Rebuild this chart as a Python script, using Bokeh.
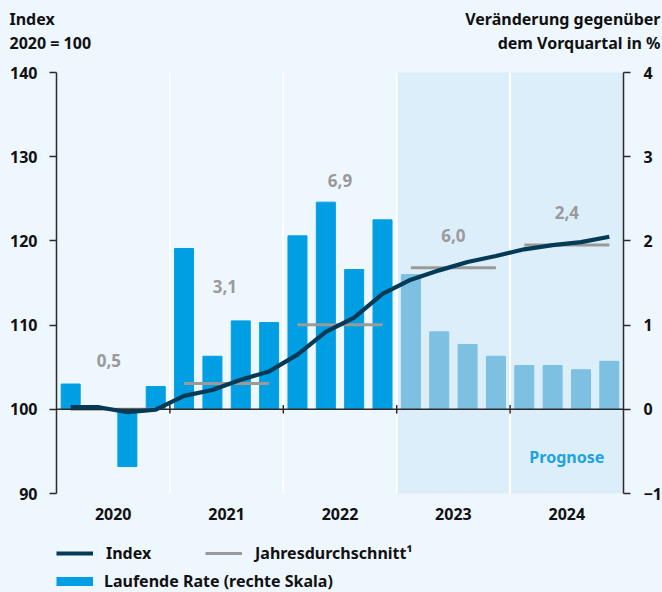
from bokeh.plotting import figure
from bokeh.models import (Range1d, LinearAxis, FixedTicker, BoxAnnotation, Label,
                          Legend, LegendItem, ColumnDataSource, GlobalInlineStyleSheet)
from bokeh.embed import file_html
from bokeh.resources import INLINE

# ---------------- data ----------------
years = ["2020", "2021", "2022", "2023", "2024"]
quarters = ["Q1", "Q2", "Q3", "Q4"]
rate = [0.30, 0.00, -0.68, 0.27,
        1.91, 0.63, 1.05, 1.03,
        2.06, 2.46, 1.66, 2.25,
        1.60, 0.92, 0.77, 0.63,
        0.52, 0.52, 0.47, 0.57]
index_vals = [100.25, 100.25, 99.65, 99.95,
              101.6, 102.3, 103.5, 104.5,
              106.5, 109.2, 110.9, 113.7,
              115.4, 116.5, 117.5, 118.2,
              119.0, 119.5, 119.85, 120.5]
annual_avg = [100.0, 103.05, 110.05, 116.8, 119.5]
annual_rate_labels = ["0,5", "3,1", "6,9", "6,0", "2,4"]
forecast_start_year = "2023"
left_ticks = [90, 100, 110, 120, 130, 140]
right_ticks = [-1, 0, 1, 2, 3, 4]
right_tick_labels = ["\u22121", "0", "1", "2", "3", "4"]
header_left = ["Index", "2020 = 100"]
header_right = ["Veränderung gegenüber", "dem Vorquartal in %"]

# ---------------- styling ----------------
FONT = "Noto Sans"
BG = "#EEF6FE"
SHADE = "#DCEEFA"
BAR = "#009FE3"
BAR_FC = "#7DC0E2"
LINE = "#053A56"
GREY = "#9A9A9A"
AXIS = "#2B2B2B"
TXT = "#111111"

W, H = 662, 592
PX_L, PX_R, PX_T, PX_B = 56, 623, 72, 493   # plotting box inside the canvas

nq = len(rate)
xq = [i + 0.5 for i in range(nq)]
fc_start = years.index(forecast_start_year) * 4
bar_colors = [BAR if i < fc_start else BAR_FC for i in range(nq)]

# ranges extended so that [0, nq] x [90, 140] sits at the plotting box
ylo, yhi = left_ticks[0], left_ticks[-1]
xs = (PX_R - PX_L) / nq
ys = (PX_B - PX_T) / (yhi - ylo)
xr = Range1d(-PX_L / xs, nq + (W - PX_R) / xs)
yr = Range1d(ylo - (H - PX_B) / ys, yhi + PX_T / ys)
rlo, rhi = right_ticks[0], right_ticks[-1]
rs = (PX_B - PX_T) / (rhi - rlo)
rr = Range1d(rlo - (H - PX_B) / rs, rhi + PX_T / rs)

p = figure(width=W, height=H, x_range=xr, y_range=yr,
           output_backend="svg", toolbar_location=None, min_border=0)
p.stylesheets = [GlobalInlineStyleSheet(css="html, body {margin:0 !important; padding:0; background:%s; overflow:hidden;}" % BG)]
p.background_fill_color = BG
p.border_fill_color = BG
p.outline_line_color = None
p.extra_y_ranges = {"rate": rr}
p.xgrid.visible = False
p.ygrid.visible = False

# forecast shading
p.add_layout(BoxAnnotation(left=fc_start, right=nq, bottom=ylo, top=yhi, fill_color=SHADE,
                           fill_alpha=1, line_alpha=0, level="image"))

# white year separators
sep = [4, 8, 12, 16]
p.segment(x0=sep, x1=sep, y0=[ylo] * 4, y1=[yhi] * 4, line_color="white", line_width=2)

def style_axis(a):
    a.axis_line_color = AXIS
    a.axis_line_width = 1.5
    a.major_tick_line_color = AXIS
    a.major_tick_line_width = 1.5
    a.major_tick_out = 7
    a.major_tick_in = 0
    a.minor_tick_line_color = None
    a.major_label_text_font = FONT
    a.major_label_text_font_style = "bold"
    a.major_label_text_font_size = "16px"
    a.major_label_text_color = TXT

ax = p.yaxis[0]
ax.ticker = FixedTicker(ticks=left_ticks)
ax.fixed_location = 0
ax.bounds = (ylo, yhi)
style_axis(ax)
ax.major_label_standoff = 12

ra = LinearAxis(y_range_name="rate", ticker=FixedTicker(ticks=right_ticks))
ra.major_label_overrides = {t: l for t, l in zip(right_ticks, right_tick_labels)}
ra.fixed_location = nq
ra.bounds = (rlo, rhi)
style_axis(ra)
ra.major_label_standoff = 13
p.add_layout(ra, "right")

bx = p.xaxis[0]
bx.ticker = FixedTicker(ticks=[i * 4 + 2 for i in range(len(years))])
bx.major_label_overrides = {i * 4 + 2: y for i, y in enumerate(years)}
bx.fixed_location = ylo
bx.bounds = (0, nq)
bx.axis_line_color = None
bx.major_tick_line_color = None
bx.major_tick_out = 0
bx.minor_tick_line_color = None
bx.major_label_text_font = FONT
bx.major_label_text_font_style = "bold"
bx.major_label_text_font_size = "16px"
bx.major_label_text_color = TXT
bx.major_label_standoff = 14

# bars
src = ColumnDataSource(dict(x=xq, top=rate, color=bar_colors))
bars = p.vbar(x="x", top="top", bottom=0, width=0.67, color="color", source=src, y_range_name="rate")

# annual average segments
avg_x0 = [i * 4 + 0.5 for i in range(len(years))]
avg_x1 = [i * 4 + 3.5 for i in range(len(years))]
avg = p.segment(x0=avg_x0, x1=avg_x1, y0=annual_avg, y1=annual_avg, line_color=GREY, line_width=3)

# zero axis line + year ticks
p.segment(x0=[0], x1=[nq], y0=[100], y1=[100], line_color=AXIS, line_width=1.5)
p.segment(x0=sep, x1=sep, y0=[99.5] * 4, y1=[100.5] * 4, line_color=AXIS, line_width=1.5)

# index line
idx = p.line(xq, index_vals, line_color=LINE, line_width=4.2, line_join="round")

# annual rate labels
lab_x = [1.85, 5.94, 10.0, 14.0, 18.0]
lab_y = [105.8, 114.6, 127.2, 120.6, 123.4]
for lx, ly, t in zip(lab_x, lab_y, annual_rate_labels):
    p.add_layout(Label(x=lx, y=ly, text=t, text_align="center", text_baseline="middle",
                       text_font=FONT, text_font_style="bold", text_font_size="17px",
                       text_color=GREY))

p.add_layout(Label(x=18.0, y=94.3, text="Prognose", text_align="center", text_baseline="middle",
                   text_font=FONT, text_font_style="bold", text_font_size="16px",
                   text_color="#1FA2E2"))

# header texts
hx_l = (9 - PX_L) / xs
hx_r = (660 - PX_L) / xs
hy = [yhi + (PX_T - 18) / ys, yhi + (PX_T - 42) / ys]
for i in range(2):
    p.add_layout(Label(x=hx_l, y=hy[i], text=header_left[i], text_align="left", text_baseline="middle",
                       text_font=FONT, text_font_style="bold", text_font_size="16px", text_color=TXT))
    p.add_layout(Label(x=hx_r, y=hy[i], text=header_right[i], text_align="right", text_baseline="middle",
                       text_font=FONT, text_font_style="bold", text_font_size="16px", text_color=TXT))

# legend key for the bars (thick line swatch; single point, so nothing is drawn in the plot)
key_src = ColumnDataSource(dict(x=[-10.0], y=[0.0]))
rate_key = p.line("x", "y", source=key_src, line_color=BAR, line_width=9, line_cap="butt")

def mk_legend(items, loc, gh, standoff, lw):
    lg = Legend(items=items, location=loc, orientation="horizontal",
                padding=0, margin=0, spacing=0,
                glyph_width=37, glyph_height=gh, label_height=gh, label_width=lw,
                label_standoff=standoff,
                background_fill_alpha=0, border_line_alpha=0,
                label_text_font=FONT, label_text_font_style="bold", label_text_font_size="16px",
                label_text_color=TXT)
    p.add_layout(lg, "center")

# row centres at 553 and 581 px
mk_legend([LegendItem(label="Index", renderers=[idx]),
           LegendItem(label="Jahresdurchschnitt\u00b9", renderers=[avg])],
          (PX_L, H - 553 - 14), 28, 13, 99)
mk_legend([LegendItem(label="Laufende Rate (rechte Skala)", renderers=[rate_key])],
          (PX_L, H - 581 - 11), 22, 11, 20)

html = file_html(p, INLINE)
open("out.html", "w").write(html)
